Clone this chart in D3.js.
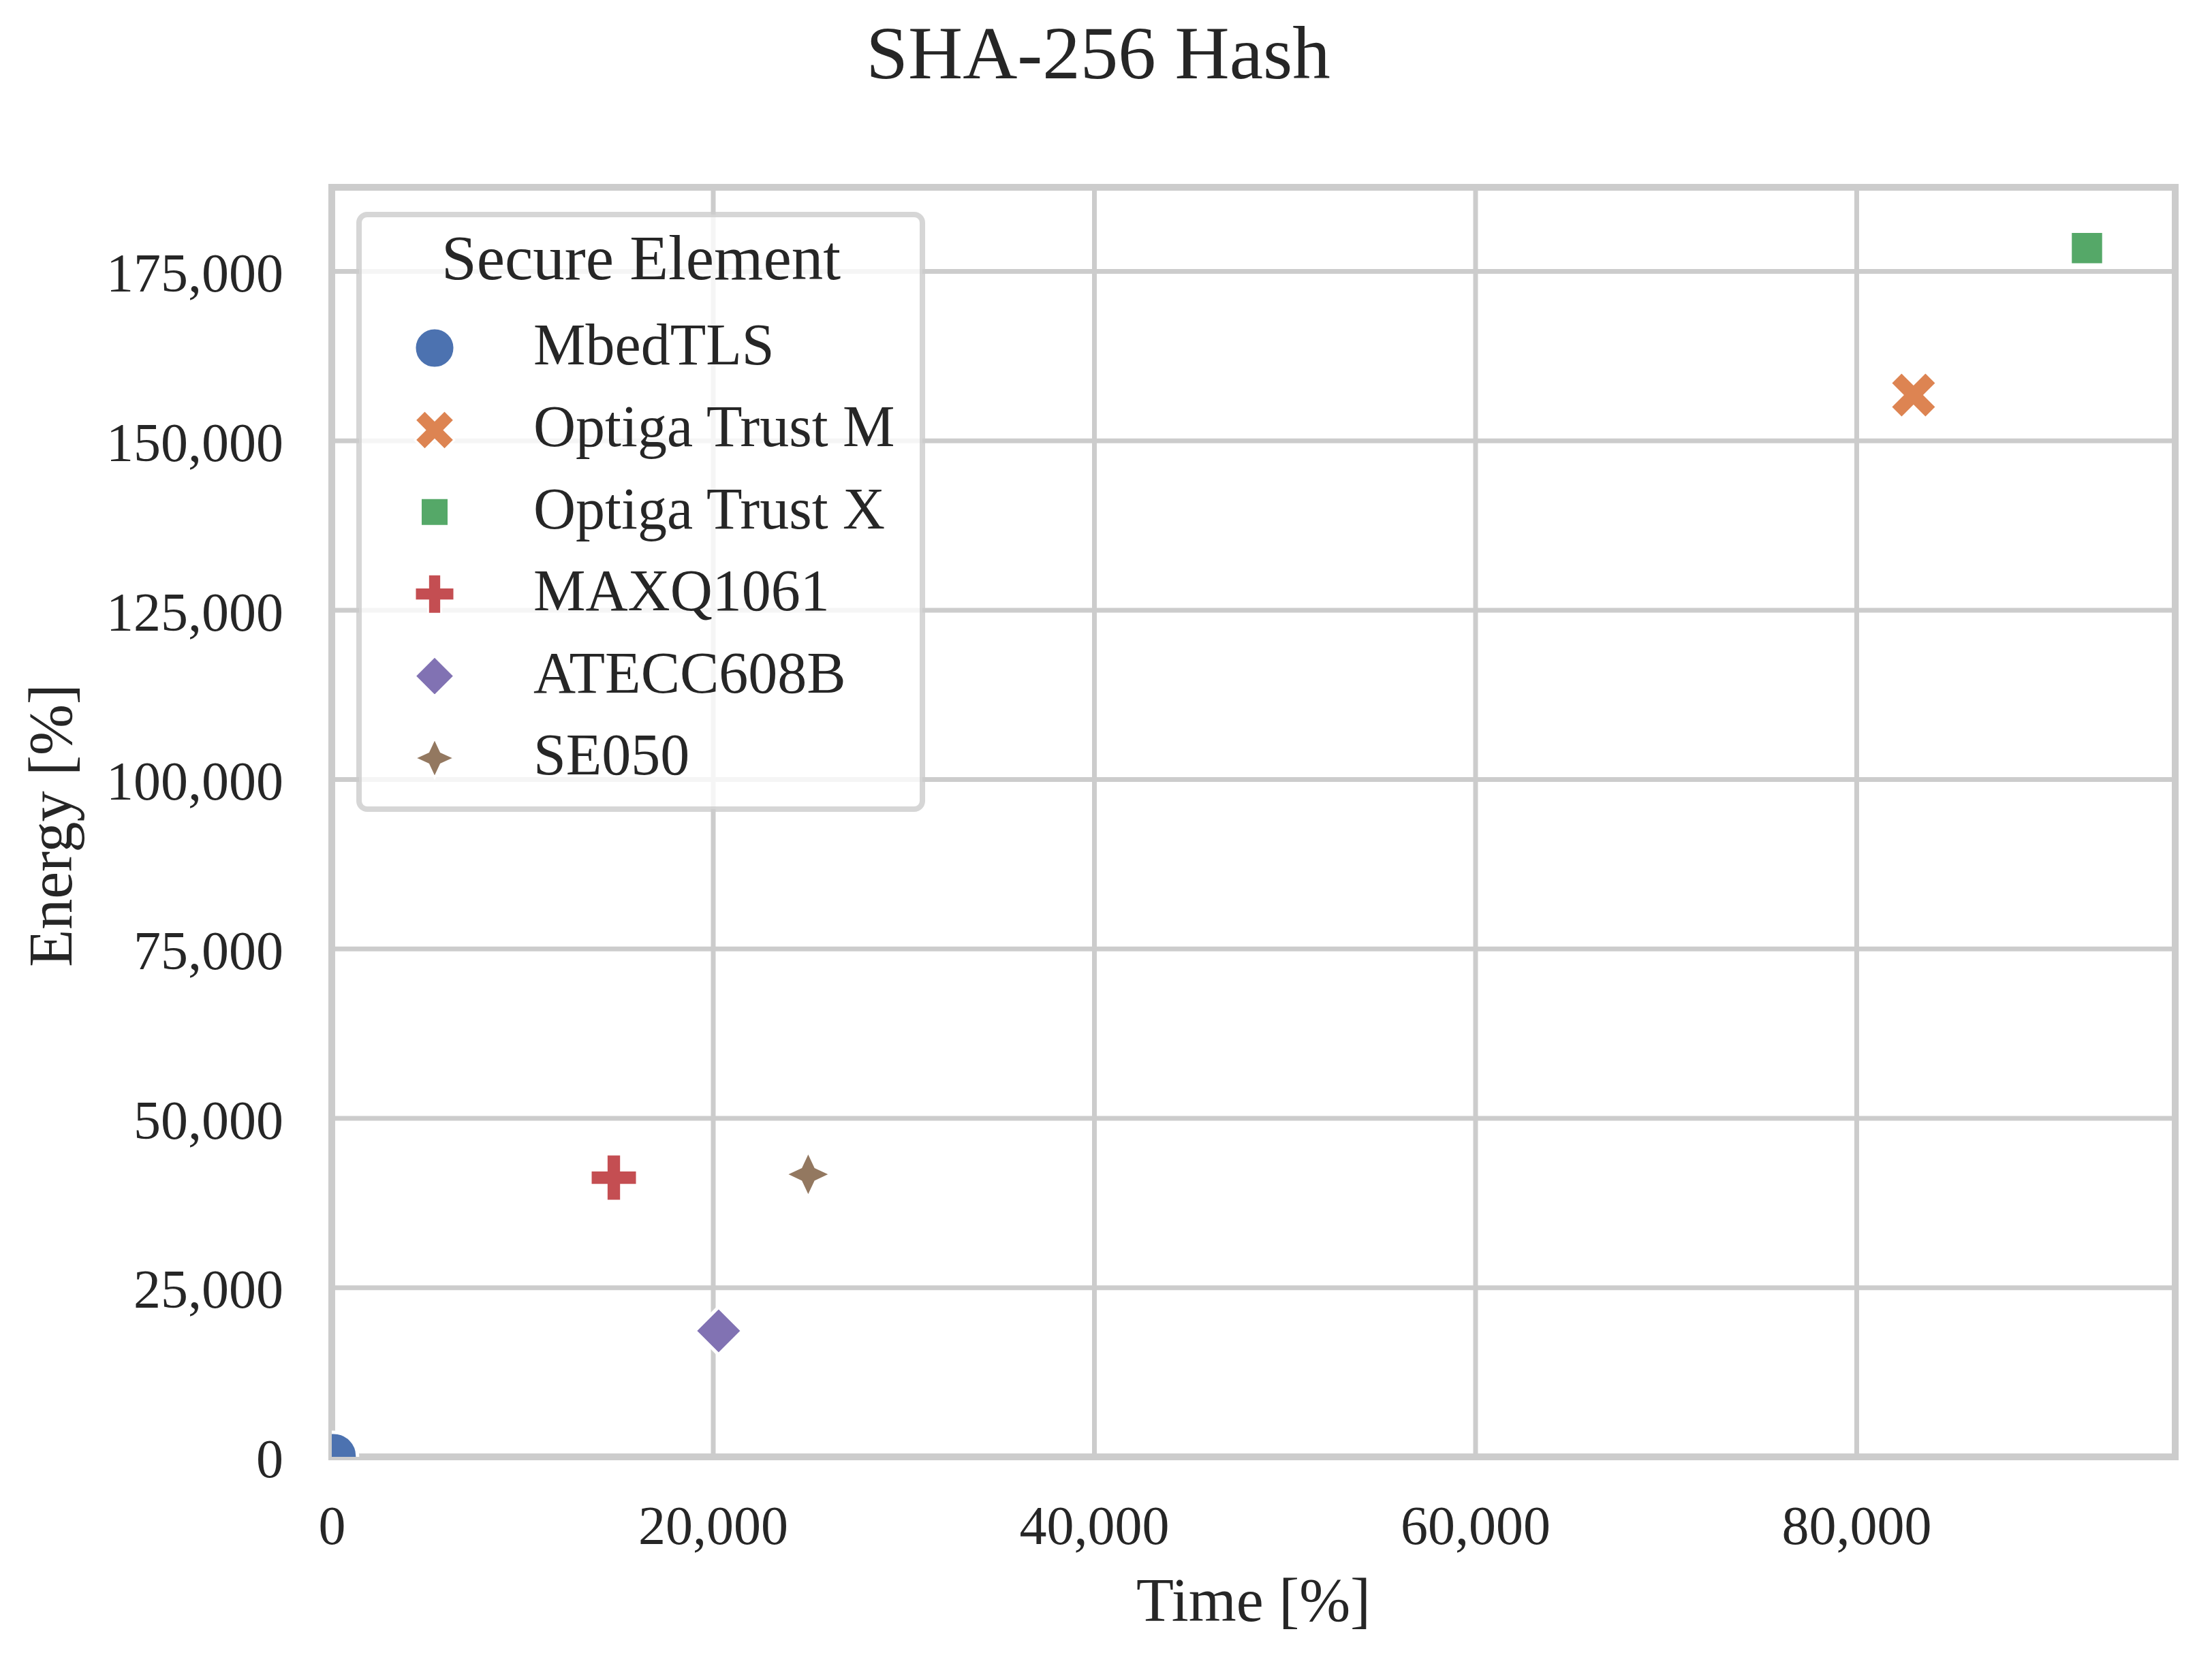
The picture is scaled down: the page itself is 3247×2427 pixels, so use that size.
<!DOCTYPE html>
<html><head><meta charset="utf-8">
<script src="https://cdn.jsdelivr.net/npm/d3@7"></script>
<style>
body{margin:0;background:#fff}
text{font-family:"Liberation Serif","Times New Roman",serif;fill:#262626}
</style>
</head><body>
<svg id="chart" width="3247" height="2427" xmlns="http://www.w3.org/2000/svg"></svg>
<script>
// ---- data ----
const categories = ["MbedTLS","Optiga Trust M","Optiga Trust X","MAXQ1061","ATECC608B","SE050"];
const timeValues = [100, 83000, 92100, 14800, 20300, 25000];
const energyValues = [100, 156700, 178400, 41200, 18600, 41700];
const xTicks = [0, 20000, 40000, 60000, 80000];
const yTicks = [0, 25000, 50000, 75000, 100000, 125000, 150000, 175000];
const xDomain = [0, 96730];
const yDomain = [0, 187360];
const colors = ["#4c72b0","#dd8452","#55a868","#c44e52","#8172b3","#937860"];
const titleText = "SHA-256 Hash";
const xLabel = "Time [%]";
const yLabel = "Energy [%]";
const legendTitle = "Secure Element";

// ---- marker shapes (matplotlib/seaborn style), size = ms^2 ----
function poly(ctx, pts){ ctx.moveTo(pts[0][0],pts[0][1]); for(let i=1;i<pts.length;i++) ctx.lineTo(pts[i][0],pts[i][1]); ctx.closePath(); }
const symCircle = {draw(ctx,size){const r=Math.sqrt(size)/2; ctx.moveTo(r,0); ctx.arc(0,0,r,0,2*Math.PI);}};
const symX = {draw(ctx,size){const f=Math.sqrt(size)/4; poly(ctx,[[-1,-2],[0,-1],[1,-2],[2,-1],[1,0],[2,1],[1,2],[0,1],[-1,2],[-2,1],[-1,0],[-2,-1]].map(p=>[p[0]*f,p[1]*f]));}};
const symSquare = {draw(ctx,size){const h=Math.sqrt(size)/2*Math.SQRT1_2; poly(ctx,[[-h,-h],[h,-h],[h,h],[-h,h]]);}};
const symPlus = {draw(ctx,size){const f=Math.sqrt(size)/6; poly(ctx,[[-1,-3],[1,-3],[1,-1],[3,-1],[3,1],[1,1],[1,3],[-1,3],[-1,1],[-3,1],[-3,-1],[-1,-1]].map(p=>[p[0]*f,p[1]*f]));}};
const symDiamond = {draw(ctx,size){const r=Math.sqrt(size)/2; poly(ctx,[[0,-r],[r,0],[0,r],[-r,0]]);}};
const symStar = {draw(ctx,size){const R=Math.sqrt(size)/2, ri=R*0.45; const pts=[]; for(let i=0;i<8;i++){const a=-Math.PI/2+i*Math.PI/4; const rr=i%2===0?R:ri; pts.push([rr*Math.cos(a),rr*Math.sin(a)]);} poly(ctx,pts);}};
const shapes = [symCircle, symX, symSquare, symPlus, symDiamond, symStar];

const data = categories.map((c,i)=>({name:c, t:timeValues[i], e:energyValues[i], color:colors[i], shape:shapes[i]}));

// ---- layout ----
const L=487, R=3193, T=275, B=2139;
const svg = d3.select("#chart");
const x = d3.scaleLinear().domain(xDomain).range([L,R]);
const y = d3.scaleLinear().domain(yDomain).range([B,T]);
const fmt = d3.format(",");

// gridlines + tick labels via axes
const gx = svg.append("g").attr("transform",`translate(0,${B})`)
  .call(d3.axisBottom(x).tickValues(xTicks).tickFormat(fmt).tickSizeInner(-(B-T)).tickSizeOuter(0).tickPadding(71));
const gy = svg.append("g").attr("transform",`translate(${L},0)`)
  .call(d3.axisLeft(y).tickValues(yTicks).tickFormat(fmt).tickSizeInner(-(R-L)).tickSizeOuter(0).tickPadding(71));
[gx,gy].forEach(g=>{
  g.select(".domain").remove();
  g.selectAll(".tick line").attr("stroke","#cccccc").attr("stroke-width",7);
  g.selectAll(".tick text").attr("font-size",80).attr("fill","#262626")
    .style("font-family",'"Liberation Serif","Times New Roman",serif');
});
gy.selectAll(".tick text").attr("dy","0.37em");
gx.selectAll(".tick text").attr("dy","0.71em");

// spines
svg.append("rect").attr("x",L).attr("y",T).attr("width",R-L).attr("height",B-T)
  .attr("fill","none").attr("stroke","#cccccc").attr("stroke-width",10);

// points
svg.append("defs").append("clipPath").attr("id","plotclip")
  .append("rect").attr("x",L).attr("y",T).attr("width",R-L).attr("height",B-T);
const sym = d3.symbol();
svg.append("g").attr("clip-path","url(#plotclip)")
  .selectAll("path").data(data).join("path")
  .attr("transform",d=>`translate(${x(d.t)},${y(d.e)})`)
  .attr("d",d=>sym.type(d.shape).size(70*70)())
  .attr("fill",d=>d.color).attr("stroke","#ffffff").attr("stroke-width",5).attr("stroke-linejoin","miter");

// title & axis labels
svg.append("text").attr("x",1612).attr("y",115).attr("text-anchor","middle").attr("font-size",111).text(titleText);
svg.append("text").attr("x",(L+R)/2).attr("y",2380).attr("text-anchor","middle").attr("font-size",90).text(xLabel);
svg.append("text").attr("transform",`translate(105,${(T+B)/2+5}) rotate(-90)`).attr("text-anchor","middle").attr("font-size",90).text(yLabel);

// legend
const lg = svg.append("g");
lg.append("rect").attr("x",527).attr("y",315).attr("width",827).attr("height",873).attr("rx",12).attr("ry",12)
  .attr("fill","#ffffff").attr("fill-opacity",0.8).attr("stroke","#cccccc").attr("stroke-opacity",0.8).attr("stroke-width",8);
lg.append("text").attr("x",941).attr("y",410).attr("text-anchor","middle").attr("font-size",93).text(legendTitle);
const rows = lg.selectAll("g.row").data(data).join("g").attr("class","row")
  .attr("transform",(d,i)=>`translate(638,${511+i*120.4})`);
rows.append("path").attr("d",d=>sym.type(d.shape).size(58*58)())
  .attr("fill",d=>d.color).attr("stroke","#ffffff").attr("stroke-width",3);
rows.append("text").attr("x",145).attr("y",24).attr("font-size",86).text(d=>d.name);
</script>
</body></html>
